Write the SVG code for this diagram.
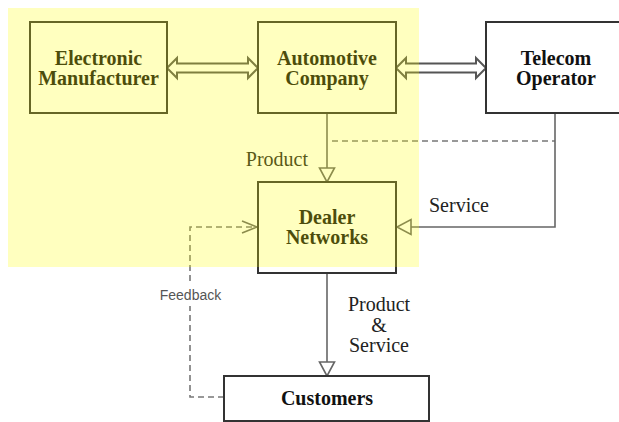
<svg xmlns="http://www.w3.org/2000/svg" width="619" height="422" viewBox="0 0 619 422">
<defs>
<style>
.box{fill:#fff;stroke:#333;stroke-width:2}
.nt{font-family:"Liberation Serif",serif;font-weight:bold;font-size:20px;fill:#111;text-anchor:middle}
.lbl{font-family:"Liberation Serif",serif;font-size:20px;fill:#222}
.con{fill:none;stroke:#666;stroke-width:1.6}
.dash{fill:none;stroke:#777;stroke-width:1.6;stroke-dasharray:6 4}
.head{fill:#fff;stroke:#666;stroke-width:1.6}
.flex{fill:#fff;stroke:#555;stroke-width:2;stroke-linejoin:miter}
</style>
</defs>
<rect width="619" height="422" fill="#fff"/>
<g id="connectors">
<path class="flex" d="M167,68 L177,58 L177,63.5 L248,63.5 L248,58 L258,68 L248,78 L248,72.5 L177,72.5 L177,78 Z"/>
<path class="flex" d="M396,68 L406,58 L406,63.5 L476,63.5 L476,58 L486,68 L476,78 L476,72.5 L406,72.5 L406,78 Z"/>
<line class="con" x1="327" y1="113" x2="327" y2="168"/>
<path class="head" d="M319.5,168 L334.5,168 L327,182 Z"/>
<line class="dash" x1="332" y1="141" x2="555" y2="141"/>
<path class="con" d="M555,113 L555,227 L411,227"/>
<path class="head" d="M411,219.5 L411,234.5 L397,227 Z"/>
<line class="con" x1="327" y1="273" x2="327" y2="362"/>
<path class="head" d="M319.5,362 L334.5,362 L327,376 Z"/>
<path class="dash" d="M224,397 L190,397 L190,227 L257,227"/>
<path class="con" d="M242,221 L257,227 L242,233" stroke="#777"/>
<rect x="157" y="284" width="68" height="22" fill="#fff"/>
<text x="190.5" y="300" font-family="'Liberation Sans',sans-serif" font-size="14" fill="#555" text-anchor="middle">Feedback</text>
<text class="lbl" x="308" y="166" text-anchor="end">Product</text>
<text class="lbl" x="429" y="212">Service</text>
<text class="lbl" x="379" y="311" text-anchor="middle">Product</text>
<text class="lbl" x="379" y="332" text-anchor="middle">&amp;</text>
<text class="lbl" x="379" y="352" text-anchor="middle">Service</text>
</g>
<g id="electronic">
<rect class="box" x="30" y="22" width="137" height="91"/>
<text class="nt" x="98.5" y="65">Electronic</text>
<text class="nt" x="98.5" y="85">Manufacturer</text>
</g>
<g id="automotive">
<rect class="box" x="258" y="22" width="138" height="91"/>
<text class="nt" x="327" y="65">Automotive</text>
<text class="nt" x="327" y="85">Company</text>
</g>
<g id="telecom">
<rect class="box" x="486" y="22" width="140" height="91"/>
<text class="nt" x="556" y="65">Telecom</text>
<text class="nt" x="556" y="85">Operator</text>
</g>
<g id="dealer">
<rect class="box" x="258" y="182" width="138" height="91"/>
<text class="nt" x="327" y="224">Dealer</text>
<text class="nt" x="327" y="244">Networks</text>
</g>
<g id="customers">
<rect class="box" x="224" y="376" width="205" height="45"/>
<text class="nt" x="327" y="405">Customers</text>
</g>
<rect id="highlight" x="8" y="8" width="411" height="259" fill="#ffff00" opacity="0.25"/>
</svg>
